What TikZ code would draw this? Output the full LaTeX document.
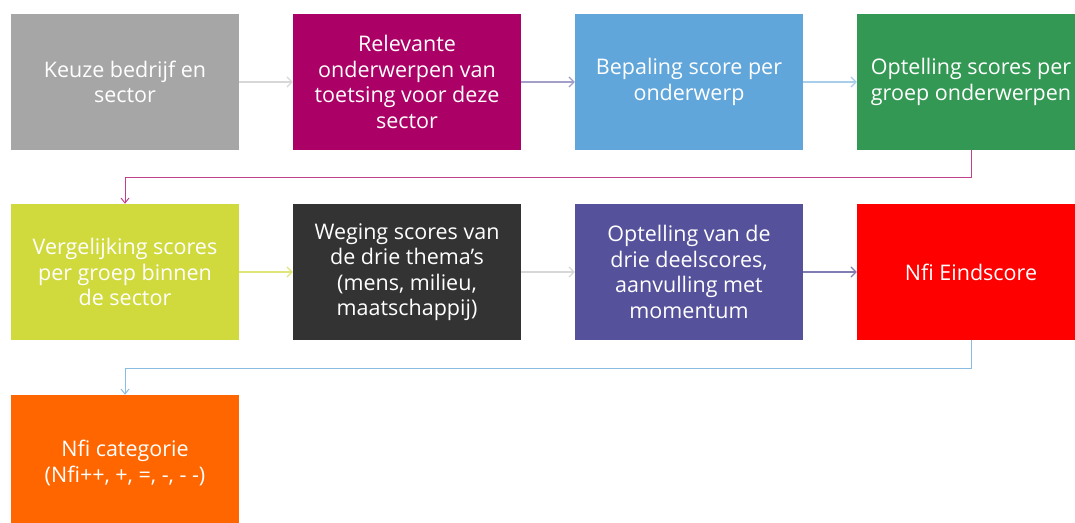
\documentclass[tikz,border=0pt]{standalone}
\usepackage{fontspec}
\setmainfont{Open Sans}
\usetikzlibrary{arrows.meta}
\definecolor{grijs}{HTML}{A6A6A6}
\definecolor{paars}{HTML}{AB0066}
\definecolor{blauw}{HTML}{60A6DA}
\definecolor{groen}{HTML}{339853}
\definecolor{geel}{HTML}{D1DA3D}
\definecolor{donker}{HTML}{333333}
\definecolor{violet}{HTML}{55519B}
\definecolor{rood}{HTML}{FF0000}
\definecolor{oranje}{HTML}{FF6600}
\begin{document}
\begin{tikzpicture}[x=1pt, y=-1pt]
       \tikzstyle{stap}=[minimum width=228pt, minimum height=136pt, inner sep=0pt,
                         text=white, align=center, font=\fontsize{21.5}{25.5}\selectfont]
       \tikzstyle{pijl}=[-{Straight Barb[length=5pt, width=10pt]}, line width=1.2pt]
       \tikzstyle{lijn}=[-{Straight Barb[length=5pt, width=8pt]}, line width=1pt]
       \useasboundingbox (0,0) rectangle (1075,522);
       \fill[white] (0,0) rectangle (1075,522);
       % eerste rij
       \node[stap, fill=grijs]  (keuze)    at (125,82)  {Keuze bedrijf en\\sector};
       \node[stap, fill=paars]  (relevant) at (407,82)  {Relevante\\onderwerpen van\\toetsing voor deze\\sector};
       \node[stap, fill=blauw]  (bepaling) at (689,82)  {Bepaling score per\\onderwerp};
       \node[stap, fill=groen]  (optel)    at (971,82)  {Optelling scores per\\groep onderwerpen};
       % tweede rij
       \node[stap, fill=geel]   (vergelijk) at (125,272) {Vergelijking scores\\per groep binnen\\de sector};
       \node[stap, fill=donker] (weging)    at (407,272) {Weging scores van\\de drie thema’s\\(mens, milieu,\\maatschappij)};
       \node[stap, fill=violet] (deel)      at (689,272) {Optelling van de\\drie deelscores,\\aanvulling met\\momentum};
       \node[stap, fill=rood]   (eind)      at (971,272) {Nfi Eindscore};
       % derde rij
       \node[stap, fill=oranje] (categorie) at (125,463) {Nfi categorie\\(Nfi++, +, =, -, - -)};
       % pijlen
       \draw[pijl, grijs!45]  (keuze)    -- (relevant);
       \draw[pijl, violet!55] (relevant) -- (bepaling);
       \draw[pijl, blauw!55]  (bepaling) -- (optel);
       \draw[pijl, geel!70]   (vergelijk) -- (weging);
       \draw[pijl, grijs!45]  (weging)    -- (deel);
       \draw[pijl, violet!75] (deel)      -- (eind);
       \draw[lijn, paars!75] (optel.south) -- ++(0,27) -| (vergelijk.north);
       \draw[lijn, blauw!75] (eind.south)  -- ++(0,28) -| (categorie.north);
      \end{tikzpicture}
\end{document}
